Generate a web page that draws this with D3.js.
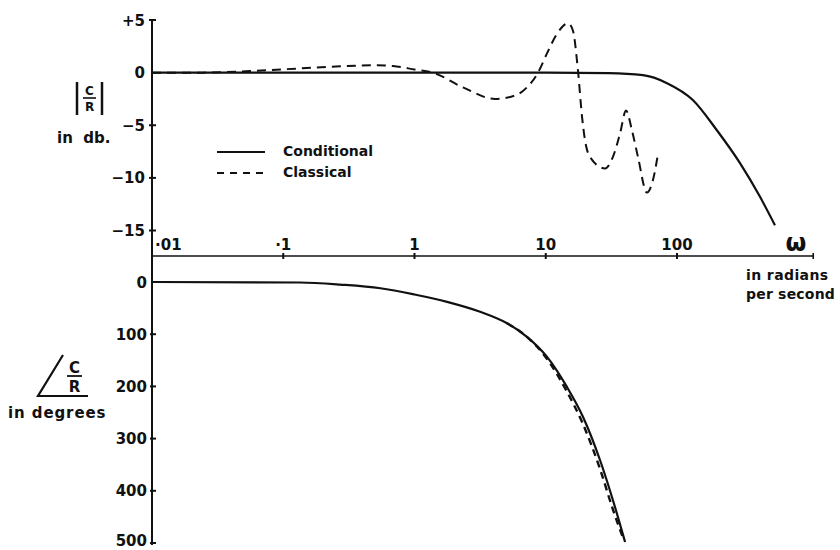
<!DOCTYPE html>
<html>
<head>
<meta charset="utf-8">
<script src="https://cdn.jsdelivr.net/npm/d3@7/dist/d3.min.js"></script>
<style>
  html, body { margin: 0; padding: 0; background: #fff; }
  svg { display: block; }
  text { font-family: "DejaVu Sans", sans-serif; fill: #111; }
</style>
</head>
<body>
<svg id="chart" width="840" height="550"></svg>
<script>
// ---- data ----
const freqTicks = [0.01, 0.1, 1, 10, 100];
const freqTickLabels = ["·01", "·1", "1", "10", "100"];
const magTicks = [5, 0, -5, -10, -15];
const magTickLabels = ["+5", "0", "\u22125", "\u221210", "\u221215"];
const phaseTicks = [0, 100, 200, 300, 400, 500];
const phaseTickLabels = ["0", "100", "200", "300", "400", "500"];

// magnitude (dB) vs omega
const condMagW  = [0.01, 1, 10, 30, 55, 84, 132, 202, 302, 429, 558];
const condMagDb = [0, 0, 0, -0.05, -0.24, -1.0, -2.6, -5.5, -8.6, -11.8, -14.5];

const clasMagW  = [0.01, 0.0245, 0.0558, 0.134, 0.271, 0.483, 0.685, 1.0, 1.38, 2.34, 4.11, 6.04, 7.19, 8.73, 10.2, 12.2, 14.8, 16.1, 17.6, 18.9, 19.9, 21.7, 28.3, 32.5, 36.8, 40.9, 45.4, 50.4, 59.0, 65.6, 71.7];
const clasMagDb = [0, 0, 0.15, 0.4, 0.6, 0.7, 0.62, 0.3, 0, -1.4, -2.5, -2.1, -1.4, 0, 1.8, 3.7, 4.7, 4.0, 0.2, -4.2, -6.4, -8.0, -9.1, -8.0, -5.8, -3.6, -5.5, -8.0, -11.4, -10.2, -7.7];

// phase lag (degrees) vs omega
const condPhW   = [0.01, 0.134, 0.271, 0.55, 1.0, 1.77, 3.16, 5.07, 7.19, 10.2, 14.5, 19.2, 25.9, 32.5, 40.2];
const condPhDeg = [0, 1, 5, 12, 24, 38, 57, 79, 105, 143, 201, 258, 341, 418, 498];

const clasPhW   = [5.07, 7.19, 10.2, 14.5, 19.2, 25.9, 32.5, 38.8];
const clasPhDeg = [79, 105, 147, 210, 272, 358, 436, 490];

// ---- drawing ----
const svg = d3.select("#chart");
const ink = "#111";

const x = d3.scaleLog().domain([0.01, 1000]).range([152, 808.25]);
const yMag = d3.scaleLinear().domain([5, -15]).range([20, 230.5]);
const yPh = d3.scaleLinear().domain([0, 500]).range([282, 543]);

const axisX = 152;
const xAxisY = 256;

// vertical axis
svg.append("line").attr("x1", axisX).attr("x2", axisX)
  .attr("y1", yMag(5) - 1).attr("y2", yPh(500) + 2)
  .attr("stroke", ink).attr("stroke-width", 2);

// frequency axis
svg.append("line").attr("x1", axisX).attr("x2", x(1000) + 5)
  .attr("y1", xAxisY).attr("y2", xAxisY)
  .attr("stroke", ink).attr("stroke-width", 1.6);
svg.append("line").attr("x1", x(1000) + 5).attr("x2", x(1000) + 5)
  .attr("y1", xAxisY - 3).attr("y2", xAxisY + 3)
  .attr("stroke", ink).attr("stroke-width", 1.6);

freqTicks.forEach((t, i) => {
  if (i > 0) {
    svg.append("line").attr("x1", x(t)).attr("x2", x(t))
      .attr("y1", xAxisY - 3).attr("y2", xAxisY + 3)
      .attr("stroke", ink).attr("stroke-width", 2);
  }
  svg.append("text")
    .attr("x", i === 0 ? x(t) + 3 : x(t))
    .attr("y", 250)
    .attr("text-anchor", i === 0 ? "start" : "middle")
    .attr("font-size", 15).attr("font-weight", "bold")
    .text(freqTickLabels[i]);
});

// omega label
svg.append("text").attr("x", 796).attr("y", 251).attr("text-anchor", "middle")
  .attr("font-size", 24).attr("font-weight", "bold").text("ω");
svg.append("text").attr("x", 746).attr("y", 280)
  .attr("font-size", 14).attr("font-weight", "bold").attr("letter-spacing", 0.4)
  .text("in radians");
svg.append("text").attr("x", 746).attr("y", 299)
  .attr("font-size", 14).attr("font-weight", "bold").attr("letter-spacing", 0.2)
  .text("per second");

// magnitude ticks
magTicks.forEach((t, i) => {
  if (t !== 0) {
    svg.append("line").attr("x1", axisX - 3).attr("x2", axisX + 4)
      .attr("y1", yMag(t)).attr("y2", yMag(t))
      .attr("stroke", ink).attr("stroke-width", 2);
  }
  svg.append("text").attr("x", 145).attr("y", yMag(t) + 5.5)
    .attr("text-anchor", "end").attr("font-size", 15).attr("font-weight", "bold")
    .text(magTickLabels[i]);
});

// phase ticks
phaseTicks.forEach((t, i) => {
  if (t !== 0) {
    svg.append("line").attr("x1", axisX - 2).attr("x2", axisX + 4)
      .attr("y1", yPh(t)).attr("y2", yPh(t))
      .attr("stroke", ink).attr("stroke-width", 2);
  }
  svg.append("text").attr("x", 147).attr("y", yPh(t) + (t === 500 ? 3 : 5.5))
    .attr("text-anchor", "end").attr("font-size", 15).attr("font-weight", "bold")
    .text(phaseTickLabels[i]);
});

// curves
const lineMag = d3.line().x(d => x(d[0])).y(d => yMag(d[1])).curve(d3.curveMonotoneX);
const linePh = d3.line().x(d => x(d[0])).y(d => yPh(d[1])).curve(d3.curveMonotoneX);

svg.append("path").datum(d3.zip(condMagW, condMagDb)).attr("d", lineMag)
  .attr("fill", "none").attr("stroke", ink).attr("stroke-width", 2.2);
svg.append("path").datum(d3.zip(clasMagW, clasMagDb)).attr("d", lineMag)
  .attr("fill", "none").attr("stroke", ink).attr("stroke-width", 2)
  .attr("stroke-dasharray", "9,6");

svg.append("path").datum(d3.zip(condPhW, condPhDeg)).attr("d", linePh)
  .attr("fill", "none").attr("stroke", ink).attr("stroke-width", 2.2);
svg.append("path").datum(d3.zip(clasPhW, clasPhDeg)).attr("d", linePh)
  .attr("fill", "none").attr("stroke", ink).attr("stroke-width", 2.4)
  .attr("stroke-dasharray", "7,5");

// legend
svg.append("line").attr("x1", 217).attr("x2", 265).attr("y1", 152).attr("y2", 152)
  .attr("stroke", ink).attr("stroke-width", 1.8);
svg.append("line").attr("x1", 217).attr("x2", 265).attr("y1", 173).attr("y2", 173)
  .attr("stroke", ink).attr("stroke-width", 1.8).attr("stroke-dasharray", "7,6");
svg.append("text").attr("x", 283).attr("y", 156).attr("font-size", 14)
  .attr("font-weight", "bold").text("Conditional");
svg.append("text").attr("x", 283).attr("y", 177).attr("font-size", 14)
  .attr("font-weight", "bold").text("Classical");

// |C/R| in db label
svg.append("line").attr("x1", 77).attr("x2", 77).attr("y1", 82).attr("y2", 115)
  .attr("stroke", ink).attr("stroke-width", 2.5);
svg.append("line").attr("x1", 102).attr("x2", 102).attr("y1", 82).attr("y2", 115)
  .attr("stroke", ink).attr("stroke-width", 2.5);
svg.append("text").attr("x", 89.5).attr("y", 95).attr("text-anchor", "middle")
  .attr("font-size", 12).attr("font-weight", "bold").text("C");
svg.append("line").attr("x1", 83).attr("x2", 96).attr("y1", 98).attr("y2", 98)
  .attr("stroke", ink).attr("stroke-width", 1.6);
svg.append("text").attr("x", 89.5).attr("y", 111).attr("text-anchor", "middle")
  .attr("font-size", 12).attr("font-weight", "bold").text("R");
svg.append("text").attr("x", 57).attr("y", 143).attr("font-size", 15)
  .attr("font-weight", "bold").attr("xml:space", "preserve").text("in  db.");

// angle C/R in degrees label
svg.append("path").attr("d", "M63,355 L38,396 L88,396")
  .attr("fill", "none").attr("stroke", ink).attr("stroke-width", 2.2);
svg.append("text").attr("x", 74.5).attr("y", 373).attr("text-anchor", "middle")
  .attr("font-size", 15).attr("font-weight", "bold").text("C");
svg.append("line").attr("x1", 67).attr("x2", 82).attr("y1", 376).attr("y2", 376)
  .attr("stroke", ink).attr("stroke-width", 1.8);
svg.append("text").attr("x", 74.5).attr("y", 392).attr("text-anchor", "middle")
  .attr("font-size", 15).attr("font-weight", "bold").text("R");
svg.append("text").attr("x", 8).attr("y", 418).attr("font-size", 15)
  .attr("font-weight", "bold").attr("letter-spacing", 0.9).text("in degrees");
</script>
</body>
</html>
